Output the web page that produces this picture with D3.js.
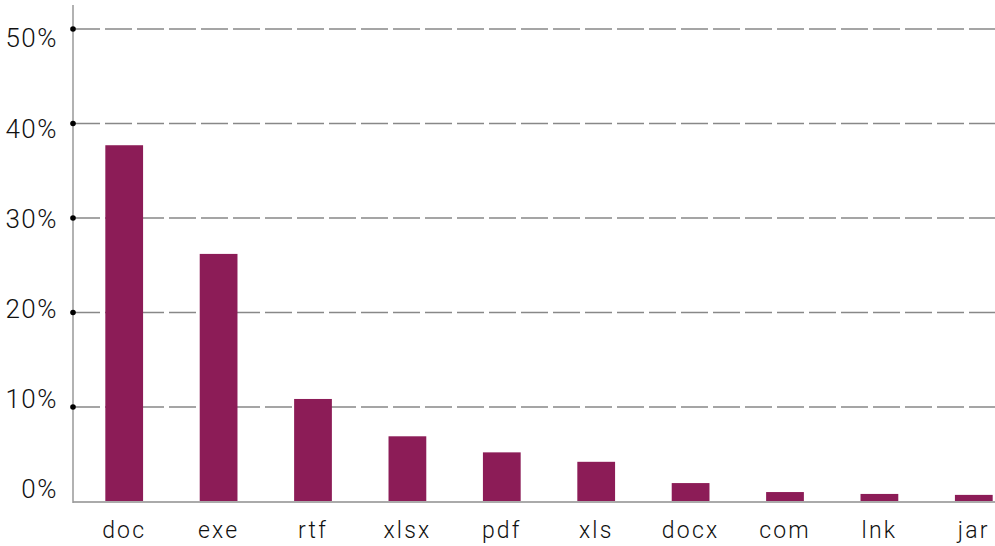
<!DOCTYPE html>
<html lang="en">
<head>
    <meta charset="UTF-8">
    <title>File types</title>
    <script src="https://d3js.org/d3.v7.min.js"></script>
    <style>
        body { margin: 0; background: #fff; }
        text { font-family: Roboto, sans-serif; font-weight: 300; fill: #111; }
    </style>
</head>
<body>
<script>
    // data
    var categories = ["doc", "exe", "rtf", "xlsx", "pdf", "xls", "docx", "com", "lnk", "jar"]
    var shares = [37.7, 26.2, 10.85, 6.9, 5.2, 4.2, 1.95, 1.0, 0.8, 0.7]
    var yTicks = [0, 10, 20, 30, 40, 50]

    var width = 995
    var height = 546
    var axisX = 73
    var barColor = "#8c1c57"

    const svg = d3.select("body").append("svg")
        .attr("width", width)
        .attr("height", height)

    var x = d3.scaleBand()
        .domain(categories)
        .range([77, 1021])
        .paddingInner(0.6)
        .paddingOuter(0.3)

    var y = d3.scaleLinear().domain([0, 50]).range([501.5, 29])
    // labels sit a little off the gridlines in the original
    var yLabel = d3.scaleLinear().domain([0, 50]).range([489, 38])

    // dashed gridlines
    svg.selectAll(".grid")
        .data(yTicks.filter(d => d > 0))
        .enter().append("line")
        .attr("x1", axisX)
        .attr("x2", width)
        .attr("y1", d => y(d))
        .attr("y2", d => y(d))
        .attr("stroke", "#888")
        .attr("stroke-width", 1.3)
        .attr("stroke-dasharray", "27,5")

    // bars
    svg.selectAll(".bar")
        .data(categories)
        .enter().append("rect")
        .attr("x", d => x(d))
        .attr("width", x.bandwidth())
        .attr("y", (d, i) => y(shares[i]))
        .attr("height", (d, i) => y(0) - y(shares[i]))
        .attr("fill", barColor)

    // axis lines
    svg.append("line")
        .attr("x1", axisX).attr("x2", width)
        .attr("y1", y(0) + 0.5).attr("y2", y(0) + 0.5)
        .attr("stroke", "#aaa").attr("stroke-width", 2)
    svg.append("line")
        .attr("x1", axisX).attr("x2", axisX)
        .attr("y1", 5).attr("y2", y(0) + 1.5)
        .attr("stroke", "#999").attr("stroke-width", 1.5)

    // dots on the axis
    svg.selectAll(".dot")
        .data(yTicks.filter(d => d > 0))
        .enter().append("circle")
        .attr("cx", axisX)
        .attr("cy", d => y(d))
        .attr("r", 2.8)
        .attr("fill", "#000")

    // y labels
    svg.selectAll(".ylab")
        .data(yTicks)
        .enter().append("text")
        .attr("x", 58)
        .attr("y", d => yLabel(d))
        .attr("dy", "0.36em")
        .attr("text-anchor", "end")
        .attr("font-size", 26)
        .attr("letter-spacing", 1.5)
        .text(d => d + "%")

    // x labels
    svg.selectAll(".xlab")
        .data(categories)
        .enter().append("text")
        .attr("x", d => x(d) + x.bandwidth() / 2)
        .attr("y", 538)
        .attr("text-anchor", "middle")
        .attr("font-size", 23)
        .attr("letter-spacing", 2.2)
        .text(d => d)
</script>
</body>
</html>
